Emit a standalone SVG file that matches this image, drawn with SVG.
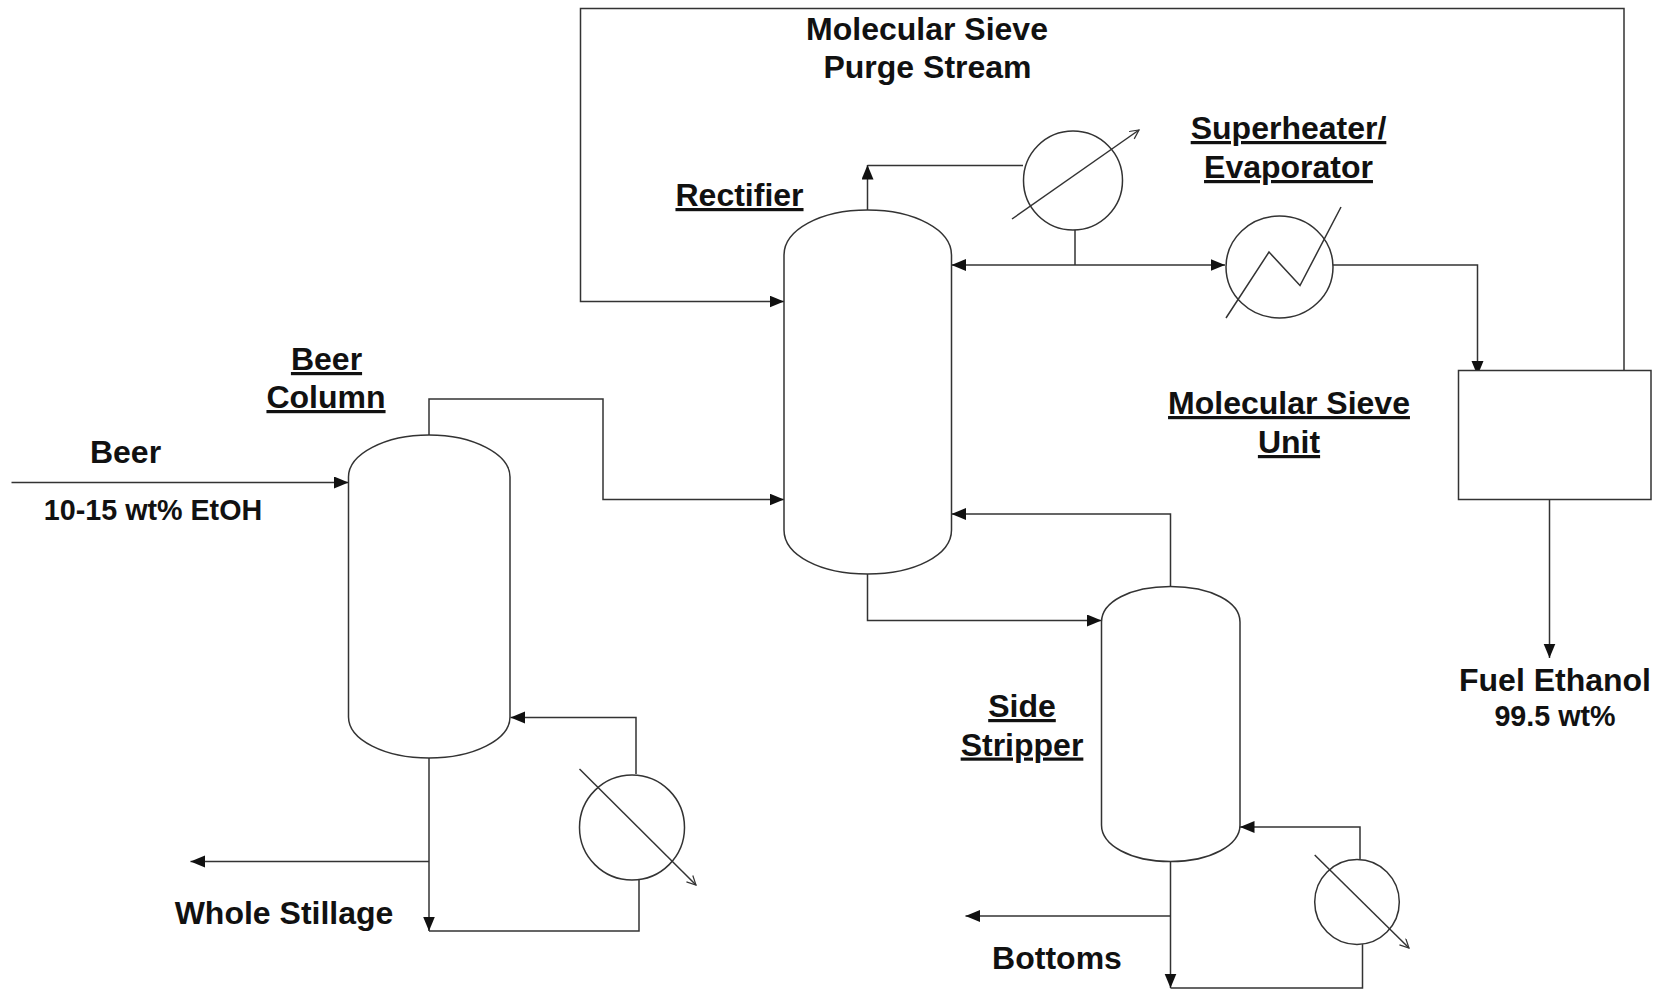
<svg xmlns="http://www.w3.org/2000/svg" width="1663" height="991" viewBox="0 0 1663 991">
<style>
.s{fill:#fff;stroke:#333;stroke-width:1.5}
.n{fill:none;stroke:#333;stroke-width:1.5}
.t{font-family:"Liberation Sans",Arial,sans-serif;font-weight:bold;font-size:32px;fill:#111;text-anchor:middle}
.u{text-decoration:underline}
.m{font-size:28.7px}
</style>
<defs>
<marker id="a" markerUnits="userSpaceOnUse" markerWidth="16" markerHeight="13" refX="14.5" refY="6" orient="auto"><path d="M0 0L14.5 6L0 12Z" fill="#111"/></marker>
<marker id="o" markerUnits="userSpaceOnUse" markerWidth="12" markerHeight="12" refX="10" refY="5" orient="auto"><path d="M1 0.5L10 5L1 9.5" fill="none" stroke="#333" stroke-width="1.2"/></marker>
</defs>
<rect width="1663" height="991" fill="#fff"/>
<g id="connectors" class="n">
<path d="M11.5 482.5H348.5" marker-end="url(#a)"/>
<path d="M429 435V399H603V499.5H784" marker-end="url(#a)"/>
<path d="M429 758V931" marker-end="url(#a)"/>
<path d="M429 861.5H190.5" marker-end="url(#a)"/>
<path d="M429 931H639V880"/>
<path d="M636 774V717.5H510.5" marker-end="url(#a)"/>
<path d="M867.5 210V165" marker-end="url(#a)"/>
<path d="M867.5 165.5H1023"/>
<path d="M1075 230V265"/>
<path d="M1075 265H951.5" marker-end="url(#a)"/>
<path d="M1075 265H1225" marker-end="url(#a)"/>
<path d="M1332 265H1477.5V375.5" marker-end="url(#a)"/>
<path d="M1624 370V8.5H580.5V301.5H784" marker-end="url(#a)"/>
<path d="M867.5 574V620.5H1101.5" marker-end="url(#a)"/>
<path d="M1170.5 586V514H951.5" marker-end="url(#a)"/>
<path d="M1549.5 500V658" marker-end="url(#a)"/>
<path d="M1170.5 862V988" marker-end="url(#a)"/>
<path d="M1170.5 916H965.5" marker-end="url(#a)"/>
<path d="M1170.5 988H1362.5V944"/>
<path d="M1360 859V827H1240" marker-end="url(#a)"/>
</g>
<g id="beer-column">
<path class="s" d="M348.5 477C348.5 454 385 435 429 435S510 454 510 477V717C510 740 473 758 429 758S348.5 740 348.5 717Z"/>
<text class="t u" x="326.5" y="370">Beer</text>
<text class="t u" x="326" y="408">Column</text>
</g>
<g id="beer-reboiler">
<circle class="s" cx="632" cy="827.5" r="52.5"/>
<path class="n" d="M579.5 769L696 885" marker-end="url(#o)"/>
</g>
<g id="rectifier">
<path class="s" d="M784 255C784 230 820 210 867.5 210S951.5 230 951.5 255V530C951.5 555 915 574 867.5 574S784 555 784 530Z"/>
<text class="t u" x="739.5" y="206">Rectifier</text>
</g>
<g id="condenser">
<circle class="s" cx="1073" cy="180.5" r="49.5"/>
<path class="n" d="M1012 219L1139 130" marker-end="url(#o)"/>
</g>
<g id="superheater">
<ellipse class="s" cx="1279.5" cy="267" rx="53.5" ry="51"/>
<path class="n" d="M1226 318L1269 252L1300 285.5L1341 207"/>
<text class="t u" x="1288.5" y="139">Superheater/</text>
<text class="t u" x="1288.5" y="178">Evaporator</text>
</g>
<g id="molecular-sieve">
<rect class="s" x="1458.5" y="370.5" width="192.5" height="129"/>
<text class="t u" x="1289" y="414">Molecular Sieve</text>
<text class="t u" x="1289" y="453">Unit</text>
</g>
<g id="side-stripper">
<path class="s" d="M1101.5 622C1101.5 602 1130 586.5 1170.5 586.5S1240 602 1240 622V825C1240 845 1211 861.5 1170.5 861.5S1101.5 845 1101.5 825Z"/>
<text class="t u" x="1022" y="717">Side</text>
<text class="t u" x="1022" y="755.5">Stripper</text>
</g>
<g id="stripper-reboiler">
<ellipse class="s" cx="1357" cy="902" rx="42.3" ry="42.5"/>
<path class="n" d="M1314.7 855L1409 948" marker-end="url(#o)"/>
</g>
<g id="labels">
<text class="t" x="927" y="40">Molecular Sieve</text>
<text class="t" x="927.5" y="78">Purge Stream</text>
<text class="t" x="125.5" y="462.5">Beer</text>
<text class="t m" x="153" y="520">10-15 wt% EtOH</text>
<text class="t" x="284" y="924">Whole Stillage</text>
<text class="t" x="1057" y="969">Bottoms</text>
<text class="t" x="1555" y="691">Fuel Ethanol</text>
<text class="t m" x="1555" y="726">99.5 wt%</text>
</g>
</svg>
